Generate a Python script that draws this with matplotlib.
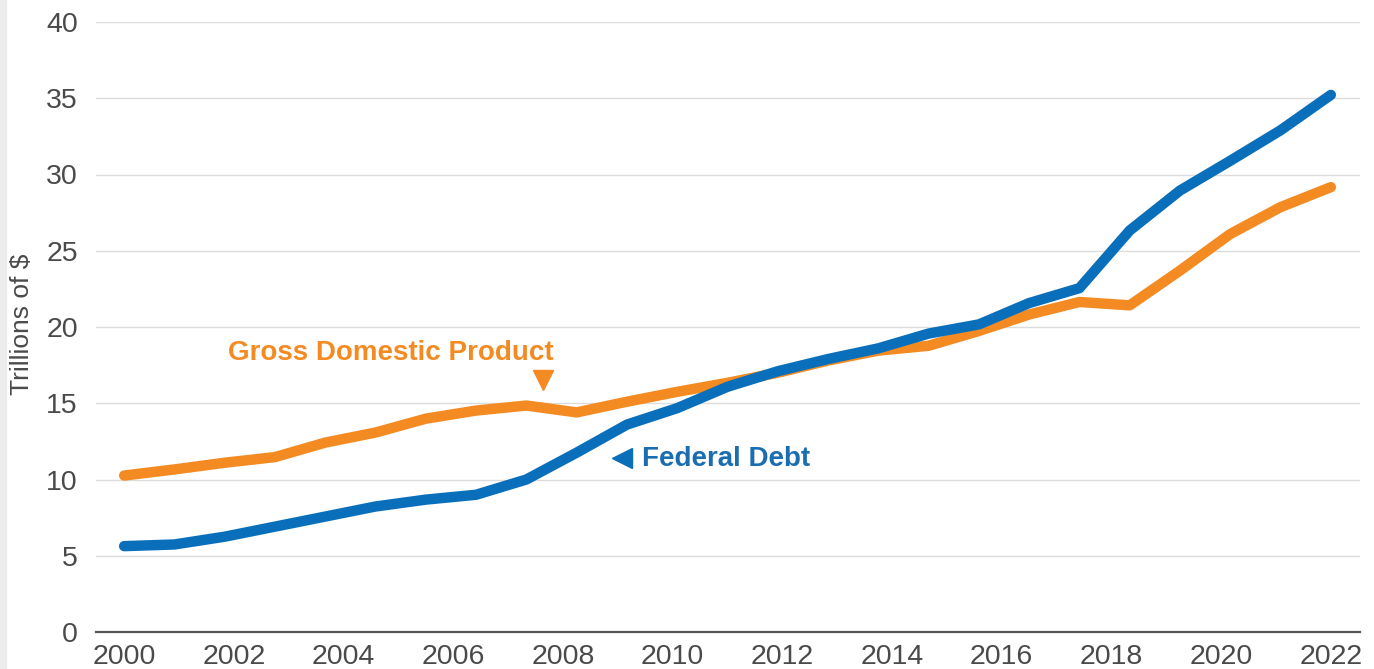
import numpy as np
import matplotlib
matplotlib.use("Agg")
import matplotlib.pyplot as plt

# ---- data ----
federal_debt = [5.63, 5.74, 6.25, 6.91, 7.57, 8.23, 8.68, 9.00, 10.00, 11.76,
                13.60, 14.68, 16.08, 17.10, 17.90, 18.60, 19.57, 20.17, 21.57,
                22.55, 26.33, 28.95, 30.90, 32.90, 35.22]
gdp = [10.26, 10.66, 11.10, 11.47, 12.42, 13.08, 13.99, 14.52, 14.85, 14.40,
       15.10, 15.75, 16.34, 17.00, 17.80, 18.45, 18.77, 19.74, 20.82,
       21.64, 21.42, 23.70, 26.10, 27.86, 29.17]
tick_labels = ["2000", "2002", "2004", "2006", "2008", "2010",
               "2012", "2014", "2016", "2018", "2020", "2022"]
y_ticks = [0, 5, 10, 15, 20, 25, 30, 35, 40]

BLUE = "#0a6fbb"
ORANGE = "#f38b22"
TXT = "#4a4a4a"

plt.rcParams["font.family"] = ["Liberation Sans", "DejaVu Sans"]

fig = plt.figure(figsize=(13.74, 6.69), dpi=100)
fig.patch.set_facecolor("white")
# light grey strip at the very left
fig.add_artist(plt.Rectangle((0, 0), 6 / 1374, 1, transform=fig.transFigure,
                             color="#ececec", zorder=0))

ax = fig.add_axes([96 / 1374, 37 / 669, 1264 / 1374, 610 / 669])
x = np.arange(len(federal_debt))

ax.plot(x, gdp, color=ORANGE, lw=7.5, solid_capstyle="round",
        solid_joinstyle="round", zorder=3)
ax.plot(x, federal_debt, color=BLUE, lw=7.5, solid_capstyle="round",
        solid_joinstyle="round", zorder=4)

ax.set_xlim(-0.56, len(federal_debt) - 1 + 0.58)
ax.set_ylim(0, 40)
ax.set_xticks(np.linspace(0, len(federal_debt) - 1, len(tick_labels)))
ax.set_xticklabels(tick_labels)
ax.set_yticks(y_ticks)
ax.tick_params(axis="both", length=0, labelsize=20.5, colors=TXT)
ax.tick_params(axis="y", pad=13)
ax.tick_params(axis="x", pad=9)

for s in ["top", "right", "left"]:
    ax.spines[s].set_visible(False)
ax.spines["bottom"].set_color("#555555")
ax.spines["bottom"].set_linewidth(1.6)
ax.spines["bottom"].set_zorder(5)

ax.grid(axis="y", color="#dcdcdc", lw=1.0)
ax.set_axisbelow(True)

ax.set_ylabel("Trillions of $", fontsize=19, color=TXT)
ax.yaxis.set_label_coords(-0.049, 0.505)

# annotations
ax.text(2.07, 18.3, "Gross Domestic Product", color=ORANGE, fontsize=20,
        fontweight="bold", ha="left", va="center")
ax.plot([8.34], [16.55], marker="v", color=ORANGE, markersize=15, zorder=6,
        linestyle="none")
ax.text(10.3, 11.35, "Federal Debt", color="#1a6db0", fontsize=20,
        fontweight="bold", ha="left", va="center")
ax.plot([9.9], [11.4], marker="<", color=BLUE, markersize=15, zorder=6,
        linestyle="none")

fig.savefig("out.png", dpi=100, facecolor="white")
